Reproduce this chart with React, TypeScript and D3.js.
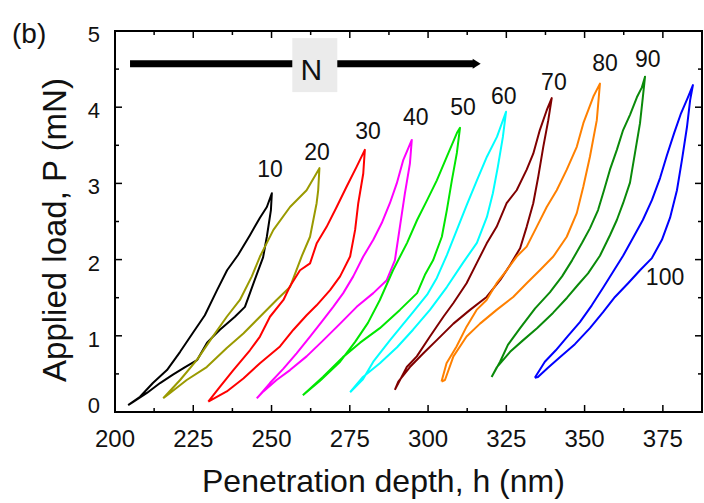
import React from 'react';
import * as d3 from 'd3';

type Pt = [number, number];

// Penetration depth h (nm), applied load P (mN) — loading branch then unloading branch
const loop10: Pt[] = [
  [204.2, 0.09], [208.0, 0.2], [212.1, 0.38], [216.6, 0.55], [220.8, 0.79], [224.9, 1.04], [228.7, 1.27], [232.6, 1.6], [235.8, 1.86], [239.3, 2.06], [243.1, 2.32], [246.3, 2.55], [248.5, 2.69], [250.1, 2.87],
  [249.8, 2.65], [248.5, 2.3], [247.3, 2.03], [245.4, 1.82], [243.1, 1.56], [241.5, 1.38], [238.3, 1.25], [233.5, 1.08], [229.4, 0.91], [226.2, 0.68], [222.4, 0.59], [218.5, 0.49], [214.4, 0.38], [210.2, 0.25], [205.7, 0.13], [204.2, 0.09],
];
const loop20: Pt[] = [
  [215.4, 0.18], [220.8, 0.42], [226.1, 0.68], [230.9, 0.97], [235.7, 1.25], [239.9, 1.47], [243.7, 1.78], [246.3, 2.04], [250.6, 2.39], [255.9, 2.69], [261.2, 2.91], [265.3, 3.2],
  [264.9, 2.91], [264.4, 2.74], [262.3, 2.3], [259.6, 2.04], [255.9, 1.64], [251.6, 1.47], [246.3, 1.25], [241.0, 1.03], [235.7, 0.84], [229.3, 0.59], [222.9, 0.42], [217.6, 0.25], [215.4, 0.18],
];
const loop30: Pt[] = [
  [229.8, 0.135], [233.5, 0.33], [237.8, 0.55], [243.1, 0.81], [246.3, 0.99], [249.5, 1.25], [253.8, 1.47], [255.9, 1.65], [259.1, 1.86], [262.3, 1.95], [264.4, 2.21], [267.6, 2.43], [270.8, 2.69], [274.0, 2.96], [277.2, 3.22], [279.8, 3.44],
  [279.3, 3.13], [277.7, 2.74], [276.7, 2.39], [275.1, 2.04], [271.9, 1.78], [268.7, 1.6], [264.4, 1.4], [261.2, 1.27], [257.0, 1.08], [252.7, 0.86], [246.3, 0.64], [241.0, 0.44], [235.7, 0.27], [229.8, 0.135],
];
const loop40: Pt[] = [
  [245.3, 0.18], [249.5, 0.38], [253.8, 0.57], [258.0, 0.77], [262.3, 0.99], [266.5, 1.21], [269.7, 1.38], [272.9, 1.56], [276.1, 1.78], [279.3, 2.04], [282.5, 2.26], [285.2, 2.48], [287.8, 2.74], [290.0, 3.0], [292.1, 3.31], [294.8, 3.57],
  [294.2, 3.26], [292.6, 2.87], [291.0, 2.43], [289.4, 1.99], [286.8, 1.73], [282.5, 1.56], [277.2, 1.38], [271.9, 1.16], [266.5, 0.94], [261.2, 0.73], [255.9, 0.55], [251.6, 0.42], [247.4, 0.27], [245.3, 0.18],
];
const loop50: Pt[] = [
  [260.0, 0.22], [265.5, 0.41], [271.9, 0.66], [276.7, 0.92], [280.8, 1.17], [284.6, 1.47], [288.8, 1.86], [293.3, 2.22], [296.5, 2.52], [299.7, 2.78], [302.8, 3.04], [306.0, 3.35], [309.2, 3.66], [310.2, 3.73],
  [309.2, 3.4], [307.6, 3.04], [306.0, 2.65], [304.4, 2.3], [301.6, 1.99], [299.0, 1.8], [296.5, 1.56], [291.0, 1.34], [284.6, 1.1], [278.3, 0.91], [272.8, 0.72], [266.4, 0.46], [260.0, 0.22],
];
const loop60: Pt[] = [
  [275.1, 0.26], [279.2, 0.43], [282.5, 0.66], [287.8, 0.94], [291.0, 1.1], [295.2, 1.31], [299.7, 1.54], [302.8, 1.76], [306.0, 2.06], [309.2, 2.39], [312.4, 2.72], [315.6, 3.04], [318.8, 3.35], [322.0, 3.61], [324.9, 3.94],
  [323.9, 3.61], [322.3, 3.22], [320.7, 2.87], [318.8, 2.56], [315.6, 2.22], [311.2, 1.96], [306.0, 1.64], [300.6, 1.34], [295.2, 1.08], [290.1, 0.85], [284.6, 0.64], [279.2, 0.46], [275.1, 0.26],
];
const loop70: Pt[] = [
  [289.4, 0.29], [293.2, 0.59], [296.4, 0.73], [300.6, 0.99], [304.9, 1.25], [308.1, 1.43], [312.3, 1.69], [315.5, 1.95], [318.7, 2.21], [321.9, 2.43], [325.1, 2.74], [328.3, 2.91], [331.5, 3.18], [333.6, 3.39], [335.7, 3.7], [337.9, 3.96], [339.5, 4.12],
  [338.4, 3.83], [336.8, 3.48], [335.2, 3.09], [333.6, 2.74], [331.5, 2.43], [329.4, 2.15], [326.2, 1.93], [323.0, 1.73], [318.7, 1.51], [313.4, 1.34], [308.1, 1.16], [302.7, 0.94], [298.5, 0.77], [294.2, 0.59], [290.5, 0.4], [289.4, 0.29],
];
const loop80: Pt[] = [
  [304.3, 0.4], [305.9, 0.64], [309.1, 0.86], [312.3, 1.12], [315.5, 1.34], [318.7, 1.47], [321.9, 1.69], [325.1, 1.86], [328.3, 2.04], [331.5, 2.17], [334.7, 2.43], [337.9, 2.69], [341.1, 2.91], [344.3, 3.18], [347.5, 3.48], [349.6, 3.79], [352.8, 4.14], [354.9, 4.31],
  [353.9, 3.83], [351.7, 3.35], [349.6, 2.96], [347.5, 2.61], [344.3, 2.3], [340.0, 2.04], [335.7, 1.86], [331.5, 1.69], [327.2, 1.51], [321.9, 1.34], [316.6, 1.16], [312.3, 0.99], [308.1, 0.73], [305.4, 0.42], [304.3, 0.4],
];
const loop90: Pt[] = [
  [320.3, 0.46], [323.0, 0.66], [325.5, 0.88], [329.4, 1.1], [334.2, 1.36], [338.9, 1.57], [342.8, 1.78], [346.0, 1.99], [349.2, 2.22], [351.7, 2.41], [354.3, 2.65], [356.2, 2.91], [358.1, 3.18], [360.3, 3.44], [362.3, 3.7], [364.5, 3.9], [366.7, 4.13], [368.3, 4.26], [369.3, 4.4],
  [368.6, 4.13], [367.7, 3.79], [366.1, 3.4], [364.5, 3.01], [362.3, 2.74], [360.3, 2.52], [358.1, 2.32], [354.9, 2.05], [351.1, 1.82], [347.9, 1.67], [344.4, 1.5], [339.9, 1.3], [334.8, 1.1], [330.3, 0.94], [326.2, 0.79], [322.0, 0.59], [320.3, 0.46],
];
const loop100: Pt[] = [
  [334.1, 0.45], [337.3, 0.66], [340.8, 0.81], [344.7, 1.0], [348.5, 1.18], [352.3, 1.4], [355.9, 1.63], [359.1, 1.84], [362.3, 2.05], [365.4, 2.28], [368.6, 2.52], [371.5, 2.78], [374.1, 3.07], [376.3, 3.37], [378.6, 3.66], [380.8, 3.92], [383.0, 4.13], [384.6, 4.29],
  [383.7, 4.09], [382.7, 3.74], [381.1, 3.31], [379.5, 2.91], [377.3, 2.55], [374.7, 2.26], [371.5, 2.02], [367.7, 1.86], [363.9, 1.69], [359.7, 1.51], [355.9, 1.31], [351.7, 1.1], [346.9, 0.89], [342.1, 0.72], [338.3, 0.58], [335.1, 0.46], [334.1, 0.45],
];

const loops: Pt[][] = [loop10, loop20, loop30, loop40, loop50, loop60, loop70, loop80, loop90, loop100];
const loopNames = ['10', '20', '30', '40', '50', '60', '70', '80', '90', '100'];
const loopColors = ['#000000', '#9a9a00', '#ff0000', '#ff00ff', '#00e600', '#00ffff', '#800000', '#ff8000', '#0a8a0a', '#0000ff'];
// label anchor (h, P)
const labelH = [249.5, 264.5, 280.8, 296.1, 311.2, 324.2, 340.2, 356.5, 370.2, 375.7];
const labelP = [3.19, 3.42, 3.69, 3.87, 4.01, 4.15, 4.34, 4.58, 4.63, 1.77];

const xTickLabels = [200, 225, 250, 275, 300, 325, 350, 375];
const yTickLabels = [0, 1, 2, 3, 4, 5];
const xDomain: Pt = [200, 387.5];
const yDomain: Pt = [0, 5];

// arrow annotation (h from, h to, P), label N
const arrowH: Pt = [204.8, 316.8];
const arrowP = 4.57;
const nLabel = { text: 'N', h: 262.7, p: 4.5 };

const FONT = "'Liberation Sans', Arial, Helvetica, sans-serif";

export default function App() {
  const left = 115, right = 702, top = 31, bottom = 412;
  const x = d3.scaleLinear().domain(xDomain).range([left, right]);
  const y = d3.scaleLinear().domain(yDomain).range([bottom, top]);
  const line = d3.line<Pt>().x((d) => x(d[0])).y((d) => y(d[1]));

  const xTicks = d3.range(xDomain[0], xDomain[1] + 0.01, 12.5);
  const yTicks = d3.range(yDomain[0], yDomain[1] + 0.01, 0.5);
  const isMajorX = (v: number) => Math.abs(((v - 200) / 25) - Math.round((v - 200) / 25)) < 1e-6;
  const isMajorY = (v: number) => Math.abs(v - Math.round(v)) < 1e-6;

  const ax0 = x(arrowH[0]), ax1 = x(arrowH[1]), ay = y(arrowP);
  const nx = x(nLabel.h), ny = y(nLabel.p);

  return (
    <svg width={704} height={503} style={{ position: 'fixed', left: 0, top: 0, background: '#fff' }} fontFamily={FONT}>
      <rect x={0} y={0} width={704} height={503} fill="#fff" />
      {/* panel label */}
      <text x={12} y={43} fontSize={28} fill="#111">(b)</text>

      {/* curves */}
      {loops.map((d, i) => (
        <path key={loopNames[i]} d={line(d) || ''} fill="none" stroke={loopColors[i]} strokeWidth={2} strokeLinejoin="round" />
      ))}

      {/* curve labels */}
      {loopNames.map((n, i) => (
        <text key={'l' + n} x={x(labelH[i])} y={y(labelP[i])} dy="0.36em" textAnchor="middle" fontSize={23} fill="#111">{n}</text>
      ))}

      {/* arrow */}
      <line x1={ax0} x2={ax1 - 6} y1={ay} y2={ay} stroke="#000" strokeWidth={7} />
      <path d={`M${ax1 - 8},${ay - 5}L${ax1},${ay}L${ax1 - 8},${ay + 5}Z`} fill="#000" />
      <rect x={nx - 19} y={ny - 31} width={45} height={54} fill="#ebebeb" />
      <text x={nx} y={ny} dy="0.36em" textAnchor="middle" fontSize={30} fill="#111">{nLabel.text}</text>

      {/* frame */}
      <rect x={left} y={top} width={right - left} height={bottom - top} fill="none" stroke="#000" strokeWidth={2} />

      {/* ticks */}
      {xTicks.map((v) => {
        const len = isMajorX(v) ? 7 : 4;
        return (
          <g key={'xt' + v}>
            <line x1={x(v)} x2={x(v)} y1={bottom} y2={bottom - len} stroke="#000" strokeWidth={1.5} />
            <line x1={x(v)} x2={x(v)} y1={top} y2={top + len} stroke="#000" strokeWidth={1.5} />
          </g>
        );
      })}
      {yTicks.map((v) => {
        const len = isMajorY(v) ? 7 : 4;
        return (
          <g key={'yt' + v}>
            <line x1={left} x2={left + len} y1={y(v)} y2={y(v)} stroke="#000" strokeWidth={1.5} />
            <line x1={right} x2={right - len} y1={y(v)} y2={y(v)} stroke="#000" strokeWidth={1.5} />
          </g>
        );
      })}

      {/* tick labels */}
      {xTickLabels.map((v) => (
        <text key={'xl' + v} x={x(v)} y={447} textAnchor="middle" fontSize={24} fill="#111">{v}</text>
      ))}
      {yTickLabels.map((v) => (
        <text key={'yl' + v} x={100} y={y(v) + (v === 0 ? -7 : 3)} dy="0.36em" textAnchor="end" fontSize={22} fill="#111">{v}</text>
      ))}

      {/* axis titles */}
      <text x={202} y={492} fontSize={32} fill="#111">Penetration depth, h (nm)</text>
      <text transform={`translate(66,230) rotate(-90)`} textAnchor="middle" fontSize={33} fill="#111">Applied load, P (mN)</text>
    </svg>
  );
}
